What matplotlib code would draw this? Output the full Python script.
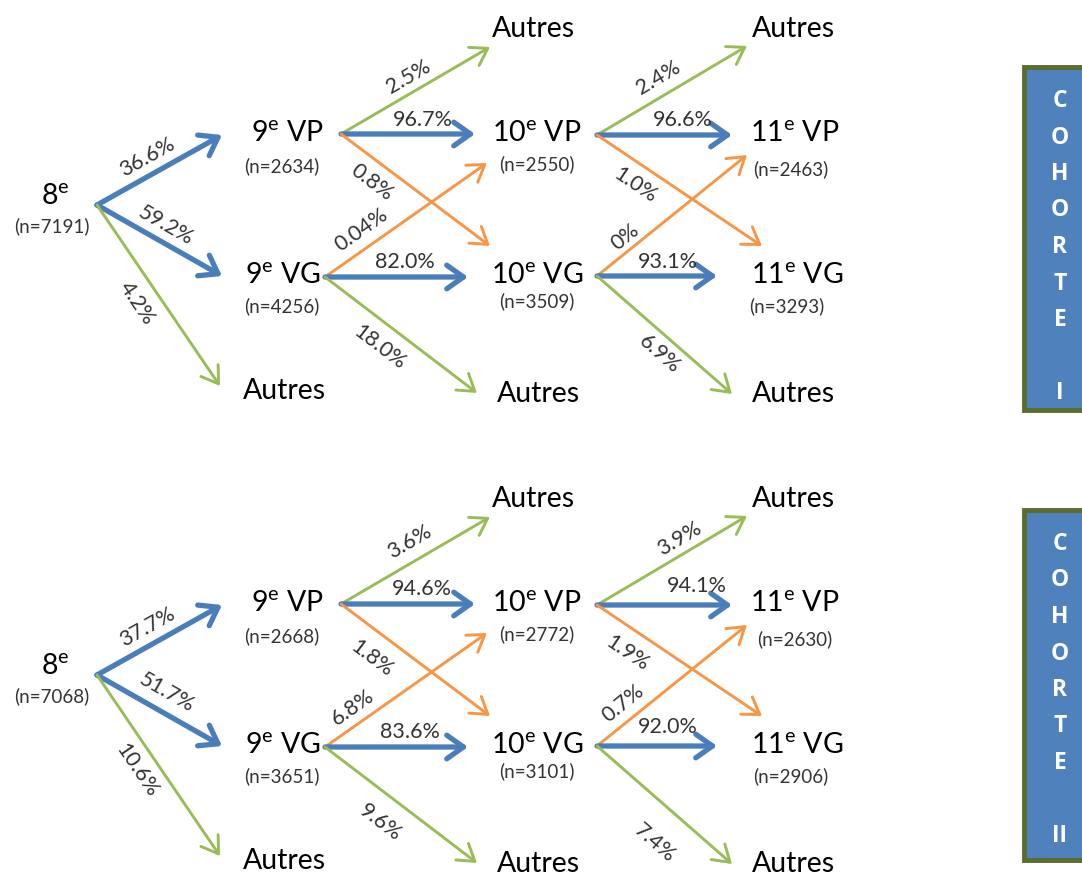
import numpy as np
import matplotlib
matplotlib.use("Agg")
import matplotlib.pyplot as plt
from matplotlib.patches import FancyArrowPatch, Rectangle, ArrowStyle

plt.rcParams['font.family'] = ['Lato', 'DejaVu Sans']
plt.rcParams['mathtext.fontset'] = 'custom'
plt.rcParams['mathtext.rm'] = 'Lato'

# data
cohorts = ["I", "II"]
n_8e = [7191, 7068]
n_9vp = [2634, 2668]
n_9vg = [4256, 3651]
n_10vp = [2550, 2772]
n_10vg = [3509, 3101]
n_11vp = [2463, 2630]
n_11vg = [3293, 2906]
# edge order: 8->9VP, 8->9VG, 8->Aut, 9VP->Aut, 9VP->10VP, 9VP->10VG,
# 9VG->10VP, 9VG->10VG, 9VG->Aut, 10VP->Aut, 10VP->11VP, 10VP->11VG,
# 10VG->11VP, 10VG->11VG, 10VG->Aut
pct_I = ["36.6%", "59.2%", "4.2%", "2.5%", "96.7%", "0.8%", "0.04%", "82.0%",
         "18.0%", "2.4%", "96.6%", "1.0%", "0%", "93.1%", "6.9%"]
pct_II = ["37.7%", "51.7%", "10.6%", "3.6%", "94.6%", "1.8%", "6.8%", "83.6%",
          "9.6%", "3.9%", "94.1%", "1.9%", "0.7%", "92.0%", "7.4%"]

BLUE = '#4a7ebb'
ORANGE = '#f79646'
GREEN = '#9bbb59'

# layout (pixels, relative to cohort top)
edges = [
    ((97, 205), (222, 135), BLUE), ((97, 205), (222, 276), BLUE), ((97, 205), (220, 386), GREEN),
    ((341, 134), (490, 47), GREEN), ((341, 134), (475, 134), BLUE), ((341, 134), (490, 246), ORANGE),
    ((325, 277), (487, 163), ORANGE), ((325, 277), (468, 277), BLUE), ((325, 277), (477, 393), GREEN),
    ((597, 135), (747, 46), GREEN), ((597, 135), (732, 135), BLUE), ((597, 135), (762, 246), ORANGE),
    ((597, 276), (747, 155), ORANGE), ((597, 276), (717, 276), BLUE), ((597, 276), (732, 394), GREEN),
]
lab_I = [(147, 157), (166, 226), (137, 303), (408, 77), (423, 120), (372, 182), (361, 230),
         (405, 262), (380, 347), (658, 78), (683, 120), (635, 185), (625, 237), (668, 262), (660, 354)]
lab_II = [(147, 627), (167, 693), (137, 770), (410, 542), (422, 589), (372, 658), (353, 707),
          (410, 732), (380, 823), (680, 539), (697, 586), (627, 653), (623, 703), (668, 727), (655, 843)]
y_off = [0, 470]
box_y = [(67, 410), (510, 860)]

fig = plt.figure(figsize=(10.82, 8.75), dpi=100)
ax = fig.add_axes([0, 0, 1, 1])
ax.set_xlim(0, 1082)
ax.set_ylim(875, 0)
ax.axis('off')

sup = lambda s: s + r"$^{\mathrm{e}}$"

for c in range(2):
    dy = y_off[c]
    pcts = pct_I if c == 0 else pct_II
    labs = lab_I if c == 0 else lab_II
    for (p0, p1, col), txt, (lx, ly) in zip(edges, pcts, labs):
        a = (p0[0], p0[1] + dy)
        b = (p1[0], p1[1] + dy)
        if col == BLUE:
            st = ArrowStyle('->', head_length=12, head_width=8.5)
            lw = 3.8
        else:
            st = ArrowStyle('->', head_length=11.5, head_width=7.5)
            lw = 2.1
        ax.add_patch(FancyArrowPatch(a, b, arrowstyle=st, mutation_scale=1, color=col,
                                     lw=lw, shrinkA=0, shrinkB=0, zorder=2))
        ang = np.degrees(np.arctan2(-(b[1] - a[1]), b[0] - a[0]))
        ax.text(lx, ly, txt, fontsize=15.5, color='#333333', rotation=ang,
                ha='center', va='center', zorder=3)

    big = 20.5
    small = 13.5
    # 8e
    ax.text(55, 197 + dy, sup("8"), fontsize=big, ha='center', va='center')
    ax.text(52, 226 + dy, "(n=%d)" % n_8e[c], fontsize=small, color='#333333', ha='center', va='center')
    # 9e
    ax.text(287, 134 + dy, sup("9") + " VP", fontsize=big, ha='center', va='center')
    ax.text(282, 166 + dy, "(n=%d)" % n_9vp[c], fontsize=small, color='#333333', ha='center', va='center')
    ax.text(283, 276 + dy, sup("9") + " VG", fontsize=big, ha='center', va='center')
    ax.text(282, 306 + dy, "(n=%d)" % n_9vg[c], fontsize=small, color='#333333', ha='center', va='center')
    ax.text(284, 391 + dy, "Autres", fontsize=big, ha='center', va='center')
    # 10e
    ax.text(533, 29 + dy, "Autres", fontsize=big, ha='center', va='center')
    ax.text(537, 134 + dy, sup("10") + " VP", fontsize=big, ha='center', va='center')
    ax.text(537, 164 + dy, "(n=%d)" % n_10vp[c], fontsize=small, color='#333333', ha='center', va='center')
    ax.text(537, 276 + dy, sup("10") + " VG", fontsize=big, ha='center', va='center')
    ax.text(537, 301 + dy, "(n=%d)" % n_10vg[c], fontsize=small, color='#333333', ha='center', va='center')
    ax.text(538, 394 + dy, "Autres", fontsize=big, ha='center', va='center')
    # 11e
    ax.text(793, 29 + dy, "Autres", fontsize=big, ha='center', va='center')
    ax.text(795, 134 + dy, sup("11") + " VP", fontsize=big, ha='center', va='center')
    ax.text(791 + 4 * c, 169 + dy, "(n=%d)" % n_11vp[c], fontsize=small, color='#333333', ha='center', va='center')
    ax.text(797, 276 + dy, sup("11") + " VG", fontsize=big, ha='center', va='center')
    ax.text(787 + 4 * c, 306 + dy, "(n=%d)" % n_11vg[c], fontsize=small, color='#333333', ha='center', va='center')
    ax.text(793, 394 + dy, "Autres", fontsize=big, ha='center', va='center')

    # cohort box
    y0, y1 = box_y[c]
    ax.add_patch(Rectangle((1024, y0), 80, y1 - y0, facecolor='#4f81bd', edgecolor='#596d2c',
                           lw=3.5, zorder=1))
    letters = list("COHORTE") + ["", cohorts[c]]
    for i, L in enumerate(letters):
        ax.text(1060, y0 + 34 + i * 36.5, L, fontsize=16.5, fontweight='bold', color='white',
                family=['Open Sans', 'DejaVu Sans'], ha='center', va='center')

fig.savefig('out.png', dpi=100)
